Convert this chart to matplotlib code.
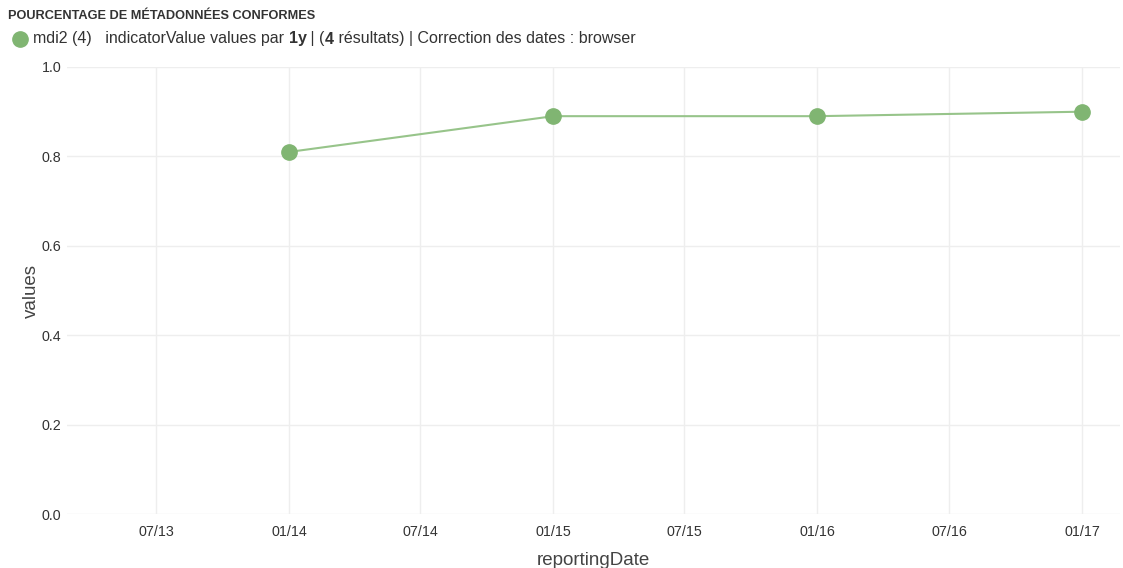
import numpy as np
import matplotlib
matplotlib.use("Agg")
import matplotlib.pyplot as plt
import matplotlib.dates as mdates
from matplotlib.lines import Line2D
from datetime import datetime

plt.rcParams['font.family'] = ['Liberation Sans', 'DejaVu Sans']

# data
dates = [datetime(2014, 1, 1), datetime(2015, 1, 1), datetime(2016, 1, 1), datetime(2017, 1, 1)]
values = [0.81, 0.89, 0.89, 0.90]
series_name = "mdi2 (4)"
tick_dates = [datetime(2013, 7, 1), datetime(2014, 1, 1), datetime(2014, 7, 1), datetime(2015, 1, 1),
              datetime(2015, 7, 1), datetime(2016, 1, 1), datetime(2016, 7, 1), datetime(2017, 1, 1)]
y_ticks = [0.0, 0.2, 0.4, 0.6, 0.8, 1.0]

green = '#80b572'
line_green = '#97c48a'
W, H = 1123, 568

fig = plt.figure(figsize=(W / 100, H / 100), dpi=100)
ax = fig.add_axes([67 / W, 1 - 514 / H, (1120 - 67) / W, (514 - 67) / H])

# line then markers on top
ax.plot(dates, values, color=line_green, lw=1.5, zorder=3)
ax.plot(dates, values, ls='none', marker='o', markersize=11,
        markerfacecolor=green, markeredgecolor=green, zorder=4)

ax.set_xlim(datetime(2013, 2, 28), datetime(2017, 2, 22))
ax.set_ylim(0, 1.0)
ax.set_xticks(tick_dates)
ax.xaxis.set_major_formatter(mdates.DateFormatter('%m/%y'))
ax.set_yticks(y_ticks)
ax.set_yticklabels(['%.1f' % v for v in y_ticks])
ax.grid(True, color='#eeeeee', lw=1)
ax.set_axisbelow(True)
for s in ax.spines.values():
    s.set_visible(False)
ax.tick_params(length=0, labelsize=10.3, labelcolor='#333333')
ax.tick_params(axis='x', pad=8)
ax.tick_params(axis='y', pad=4)
ax.set_xlabel('reportingDate', fontsize=13.5, color='#444444', labelpad=9)
ax.set_ylabel('values', fontsize=13.5, color='#444444', labelpad=1)

# header
fig.text(8 / W, 1 - 16 / H, 'POURCENTAGE DE MÉTADONNÉES CONFORMES', fontsize=9.2,
         fontweight='bold', color='#333333', va='center')
fig.add_artist(Line2D([20 / W], [1 - 39 / H], marker='o', markersize=11, color=green,
                      transform=fig.transFigure))

parts = [(series_name + '   indicatorValue values par ', 'normal'), ('1y', 'bold'),
         (' | (', 'normal'), ('4', 'bold'),
         (' résultats) | Correction des dates : browser', 'normal')]
fig.canvas.draw()
r = fig.canvas.get_renderer()
x = 33
for txt, w in parts:
    t = fig.text(x / W, 1 - 39 / H, txt, fontsize=11.5, fontweight=w, color='#333333', va='center')
    x += t.get_window_extent(renderer=r).width

fig.savefig('out.png', dpi=100)
